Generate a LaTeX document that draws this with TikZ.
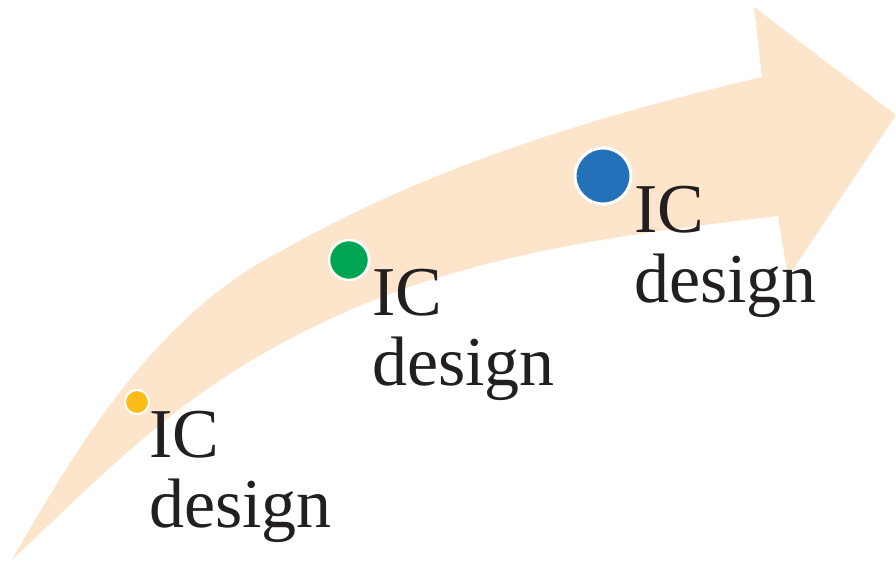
\documentclass[tikz,border=0pt]{standalone}
\usepackage{fontspec}
\setmainfont{Liberation Serif}
\definecolor{peche}{HTML}{FDE5CC}
\definecolor{jaune}{HTML}{FBBC16}
\definecolor{vert}{HTML}{00A551}
\definecolor{bleu}{HTML}{2372B9}
\definecolor{encre}{HTML}{231F20}
\tikzset{
    point/.style={circle, draw=white, inner sep=0},
    etiquette/.style={anchor=base west, inner sep=0, text=encre,
      font=\fontsize{70}{70}\selectfont},
  }
\begin{document}
\begin{tikzpicture}[x=1pt,y=-1pt]
				  \useasboundingbox (0,0) rectangle (896,562);
				  %fleche
				  \coordinate (queue) at (12,560);
				  \coordinate (haut) at (762,77);
				  \coordinate (bas) at (778,216);
				  \fill[peche] (queue) .. controls (80,440) and (160,312) .. (283,250)
				    .. controls (431,166) and (596,116) .. (haut)
				    -- (754,7) -- (896,115) -- (788,277) -- (bas)
				    .. controls (633,233) and (483,252) .. (350,310)
				    .. controls (195,378) and (124,454) .. (queue) -- cycle;
				  
				  %points
				  \node[point, fill=jaune, line width=2pt, minimum size=24pt] (pjaune) at (137,402) {};
				  \node[point, fill=vert, line width=2.5pt, minimum size=40pt] (pvert) at (349,260) {};
				  \node[point, fill=bleu, line width=3pt, minimum size=56pt] (pbleu) at (603,176) {};
				  
				  %textes
				  \node[etiquette] (ic1) at (149,457) {IC};
				  \node[etiquette] (design1) at ([yshift=-70pt]ic1.base west) {design};
				  \node[etiquette] (ic2) at (372,315) {IC};
				  \node[etiquette] (design2) at ([yshift=-70pt]ic2.base west) {design};
				  \node[etiquette] (ic3) at (634,232) {IC};
				  \node[etiquette] (design3) at ([yshift=-70pt]ic3.base west) {design};
\end{tikzpicture}
\end{document}
